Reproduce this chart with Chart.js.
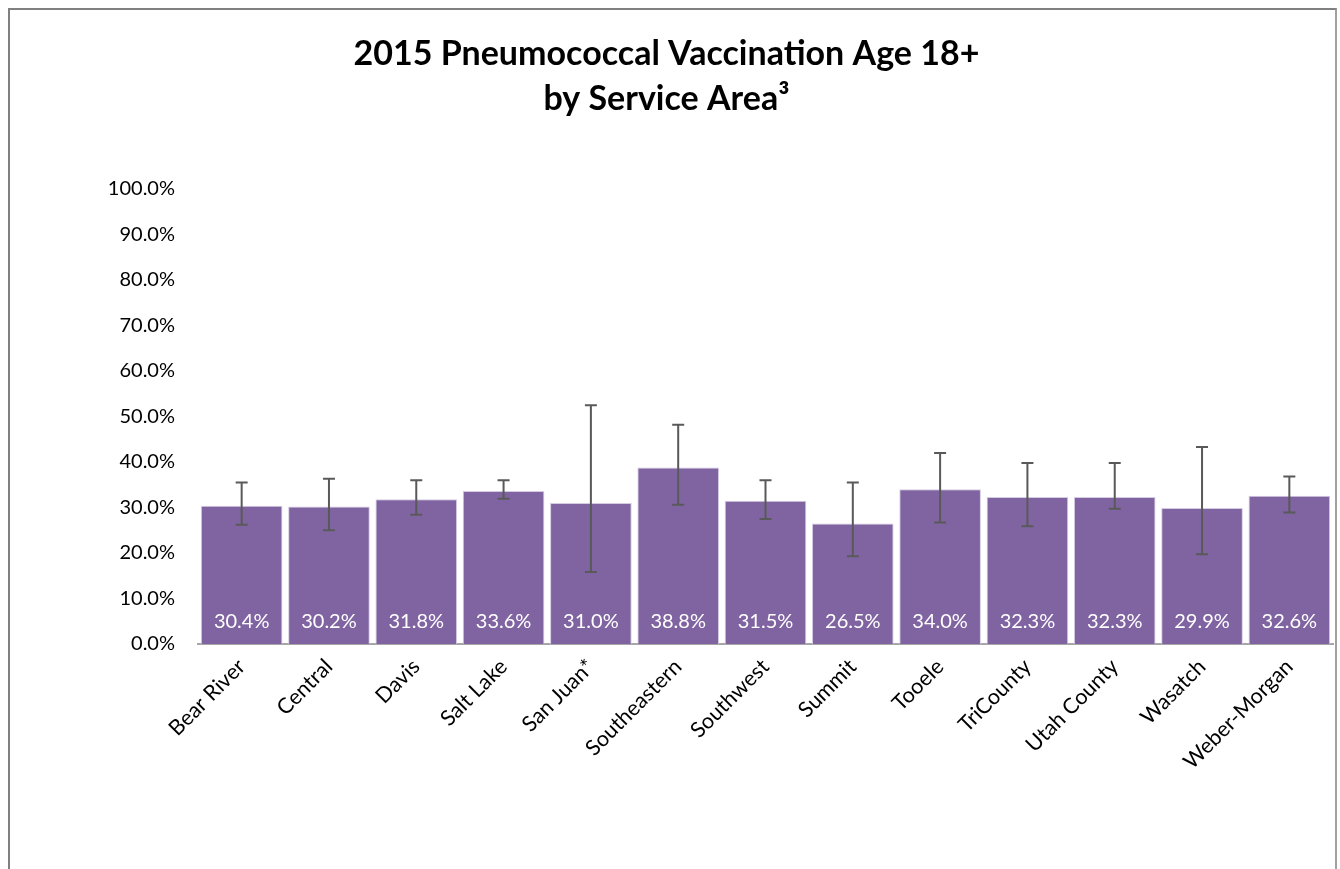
<!DOCTYPE html>
<html>
<head>
<meta charset="utf-8">
<script src="https://cdn.jsdelivr.net/npm/chart.js@4.4.1/dist/chart.umd.min.js"></script>
<style>
  html, body { margin: 0; padding: 0; background: #fff; overflow: hidden; }
  #wrap { position: absolute; left: 0; top: 0; width: 1340px; height: 869px; }
  #frame { position: absolute; left: 8px; top: 8px; width: 1325px; height: 900px;
           border-left: 2px solid #808080; border-top: 2px solid #808080; border-right: 2px solid #a0a0a0; }
  canvas { position: absolute; left: 0; top: 0; }
</style>
</head>
<body>
<div id="wrap">
  <div id="frame"></div>
  <canvas id="c" width="1340" height="869"></canvas>
</div>
<script>
const categories = ["Bear River", "Central", "Davis", "Salt Lake", "San Juan*", "Southeastern",
  "Southwest", "Summit", "Tooele", "TriCounty", "Utah County", "Wasatch", "Weber-Morgan"];
const values = [30.4, 30.2, 31.8, 33.6, 31.0, 38.8, 31.5, 26.5, 34.0, 32.3, 32.3, 29.9, 32.6];
const lowerCI = [26.2, 25.0, 28.4, 31.9, 15.8, 30.6, 27.5, 19.3, 26.7, 25.9, 29.7, 19.7, 28.9];
const upperCI = [35.5, 36.3, 36.0, 36.0, 52.5, 48.2, 36.0, 35.5, 42.0, 39.8, 39.8, 43.3, 36.8];
const yTicks = [0, 10, 20, 30, 40, 50, 60, 70, 80, 90, 100];
const titleLines = ["2015 Pneumococcal Vaccination Age 18+", "by Service Area\u00B3"];

const FONT = "Lato, 'Open Sans', sans-serif";

const errorBarPlugin = {
  id: 'errorBars',
  afterDatasetsDraw(chart) {
    const ctx = chart.ctx;
    const meta = chart.getDatasetMeta(0);
    const y = chart.scales.y;
    ctx.save();
    ctx.strokeStyle = '#595959';
    ctx.lineWidth = 2;
    meta.data.forEach((bar, i) => {
      const x = bar.x;
      const yl = y.getPixelForValue(lowerCI[i]);
      const yu = y.getPixelForValue(upperCI[i]);
      const cap = 6;
      ctx.beginPath();
      ctx.moveTo(x, yl); ctx.lineTo(x, yu);
      ctx.moveTo(x - cap, yu); ctx.lineTo(x + cap, yu);
      ctx.moveTo(x - cap, yl); ctx.lineTo(x + cap, yl);
      ctx.stroke();
    });
    ctx.restore();
  }
};

const valueLabelPlugin = {
  id: 'valueLabels',
  afterDatasetsDraw(chart) {
    const ctx = chart.ctx;
    const meta = chart.getDatasetMeta(0);
    const y0 = chart.scales.y.getPixelForValue(0);
    ctx.save();
    ctx.fillStyle = '#ffffff';
    ctx.font = "20px " + FONT;
    ctx.textAlign = 'center';
    ctx.textBaseline = 'middle';
    meta.data.forEach((bar, i) => {
      ctx.fillText(values[i].toFixed(1) + '%', bar.x, y0 - 22);
    });
    ctx.restore();
  }
};

new Chart(document.getElementById('c'), {
  type: 'bar',
  data: {
    labels: categories,
    datasets: [{
      data: values,
      backgroundColor: '#8064A2',
      borderColor: '#d4cbe2',
      borderWidth: 1,
      barPercentage: 1.0,
      categoryPercentage: 0.935
    }]
  },
  options: {
    responsive: false,
    animation: false,
    events: [],
    layout: { padding: { left: 0, right: 7, top: 0, bottom: 0 } },
    plugins: {
      legend: { display: false },
      tooltip: { enabled: false },
      title: {
        display: true,
        text: titleLines,
        color: '#000000',
        font: { family: FONT, size: 34, weight: 'bold', lineHeight: 45 / 34 },
        padding: { top: 32, bottom: 67 }
      }
    },
    scales: {
      x: {
        grid: { display: false, drawTicks: false },
        border: { display: true, color: '#a6a6a6', width: 2 },
        ticks: {
          color: '#000000',
          font: { family: FONT, size: 21.5 },
          maxRotation: 45, minRotation: 45,
          padding: 10,
          autoSkip: false
        },
        afterFit(scale) { scale.height = 225; }
      },
      y: {
        min: 0, max: 100,
        afterBuildTicks(scale) { scale.ticks = yTicks.map(v => ({ value: v })); },
        grid: { display: false, drawTicks: false },
        border: { display: false },
        ticks: {
          color: '#000000',
          font: { family: FONT, size: 20 },
          padding: 23,
          callback: v => Number(v).toFixed(1) + '%'
        },
        afterFit(scale) { scale.width = 198; }
      }
    }
  },
  plugins: [errorBarPlugin, valueLabelPlugin]
});
</script>
</body>
</html>
